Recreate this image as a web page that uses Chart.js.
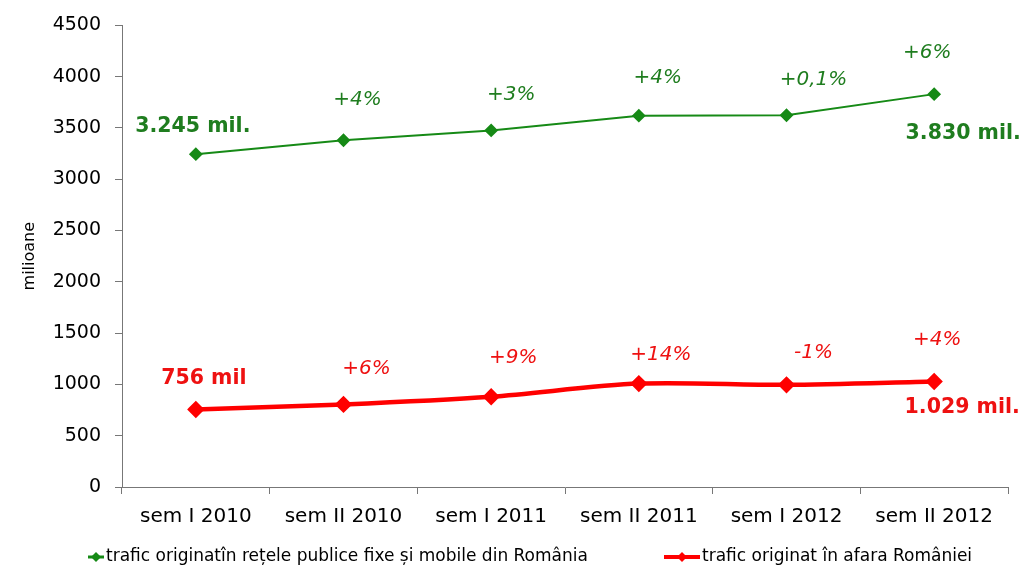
<!DOCTYPE html>
<html><head><meta charset="utf-8">
<script src="https://cdn.jsdelivr.net/npm/chart.js@4/dist/chart.umd.min.js"></script>
<style>html,body{margin:0;padding:0;background:#fff}#wrap{width:1022px;height:573px}</style>
</head><body><div id="wrap"><canvas id="c" width="1022" height="573"></canvas></div>
<script>
const categories = ["sem I 2010","sem II 2010","sem I 2011","sem II 2011","sem I 2012","sem II 2012"];
const greenValues = [3245, 3380, 3476, 3620, 3624, 3830];
const redValues = [756, 805, 880, 1008, 996, 1029];
const greenPct = ["", "+4%", "+3%", "+4%", "+0,1%", "+6%"];
const redPct = ["", "+6%", "+9%", "+14%", "-1%", "+4%"];
const greenEnds = ["3.245 mil.", "3.830 mil."];
const redEnds = ["756 mil", "1.029 mil."];
const seriesNames = ["trafic originatîn rețele publice fixe și mobile din România", "trafic originat în afara României"];
const yTicks = [0,500,1000,1500,2000,2500,3000,3500,4000,4500];

const GREEN = "#168a16", GREEN_TXT = "#1f7d1f", RED = "#ff0000", RED_TXT = "#ee1111";
const FONT = "'DejaVu Sans', sans-serif";

const labelPlugin = {
  id: "labels",
  afterDatasetsDraw(chart) {
    const ctx = chart.ctx, x = chart.scales.x, y = chart.scales.y;
    ctx.save();
    ctx.textAlign = "center"; ctx.textBaseline = "middle";
    const gOff = [null,[14,-40],[20,-36],[19,-38],[27,-35],[-7,-41]];
    const rOff = [null,[23,-36],[22,-39],[22,-29],[27,-32],[3,-42]];
    ctx.font = "oblique 20px " + FONT;
    greenPct.forEach((t,i)=>{ if(!t) return; ctx.fillStyle = GREEN_TXT;
      ctx.fillText(t, x.getPixelForValue(i)+gOff[i][0], y.getPixelForValue(greenValues[i])+gOff[i][1]); });
    redPct.forEach((t,i)=>{ if(!t) return; ctx.fillStyle = RED_TXT;
      ctx.fillText(t, x.getPixelForValue(i)+rOff[i][0], y.getPixelForValue(redValues[i])+rOff[i][1]); });
    ctx.font = "bold 20.5px " + FONT;
    const last = categories.length-1;
    ctx.fillStyle = GREEN_TXT;
    ctx.fillText(greenEnds[0], x.getPixelForValue(0)-3, y.getPixelForValue(greenValues[0])-27);
    ctx.fillText(greenEnds[1], x.getPixelForValue(last)+29, y.getPixelForValue(greenValues[last])+40);
    ctx.fillStyle = RED_TXT;
    ctx.fillText(redEnds[0], x.getPixelForValue(0)+8, y.getPixelForValue(redValues[0])-31);
    ctx.fillText(redEnds[1], x.getPixelForValue(last)+28, y.getPixelForValue(redValues[last])+26);
    // legend
    const ly = 557;
    ctx.font = "17px " + FONT; ctx.textAlign = "left";
    const items = [{c:GREEN,w:3,x0:88,x1:104,name:seriesNames[0]},{c:RED,w:4,x0:664,x1:700,name:seriesNames[1]}];
    items.forEach(it=>{
      ctx.strokeStyle = it.c; ctx.lineWidth = it.w;
      ctx.beginPath(); ctx.moveTo(it.x0, ly); ctx.lineTo(it.x1, ly); ctx.stroke();
      const cx = (it.x0+it.x1)/2; ctx.fillStyle = it.c;
      ctx.beginPath(); ctx.moveTo(cx, ly-5); ctx.lineTo(cx+5, ly); ctx.lineTo(cx, ly+5); ctx.lineTo(cx-5, ly); ctx.closePath(); ctx.fill();
      ctx.fillStyle = "#000"; ctx.fillText(it.name, it.x1+2, ly);
    });
    ctx.restore();
  }
};

new Chart(document.getElementById("c"), {
  type: "line",
  data: {
    labels: categories,
    datasets: [
      { label: seriesNames[0], data: greenValues, borderColor: GREEN, backgroundColor: GREEN, borderWidth: 2,
        pointStyle: "rectRot", pointRadius: 5.5, pointHoverRadius: 5.5, tension: 0 },
      { label: seriesNames[1], data: redValues, borderColor: RED, backgroundColor: RED, borderWidth: 4.5,
        pointStyle: "rectRot", pointRadius: 5.5, pointHoverRadius: 5.5, tension: 0.3 }
    ]
  },
  options: {
    responsive: false, animation: false,
    layout: { padding: { top: 25, right: 14, bottom: 36, left: 0 } },
    plugins: { legend: { display: false }, tooltip: { enabled: false } },
    scales: {
      x: {
        offset: true,
        grid: { display: true, drawOnChartArea: false, offset: true, color: "#777", tickLength: 7 },
        border: { color: "#777", width: 1 },
        ticks: { color: "#000", font: { family: FONT, size: 20 }, padding: 11, maxRotation: 0 },
        afterFit(s) { s.height = 50; }
      },
      y: {
        min: 0, max: 4500,
        afterBuildTicks(s) { s.ticks = yTicks.map(v=>({value:v})); },
        grid: { display: true, drawOnChartArea: false, color: "#777", tickLength: 7 },
        border: { color: "#777", width: 1 },
        ticks: { color: "#000", font: { family: FONT, size: 19 }, padding: 14, callback: v => String(v) },
        title: { display: true, text: "milioane", color: "#000", font: { family: FONT, size: 16 }, padding: { top: 20, bottom: 0 } },
        afterFit(s) { s.width = 122; }
      }
    }
  },
  plugins: [labelPlugin]
});
</script></body></html>
